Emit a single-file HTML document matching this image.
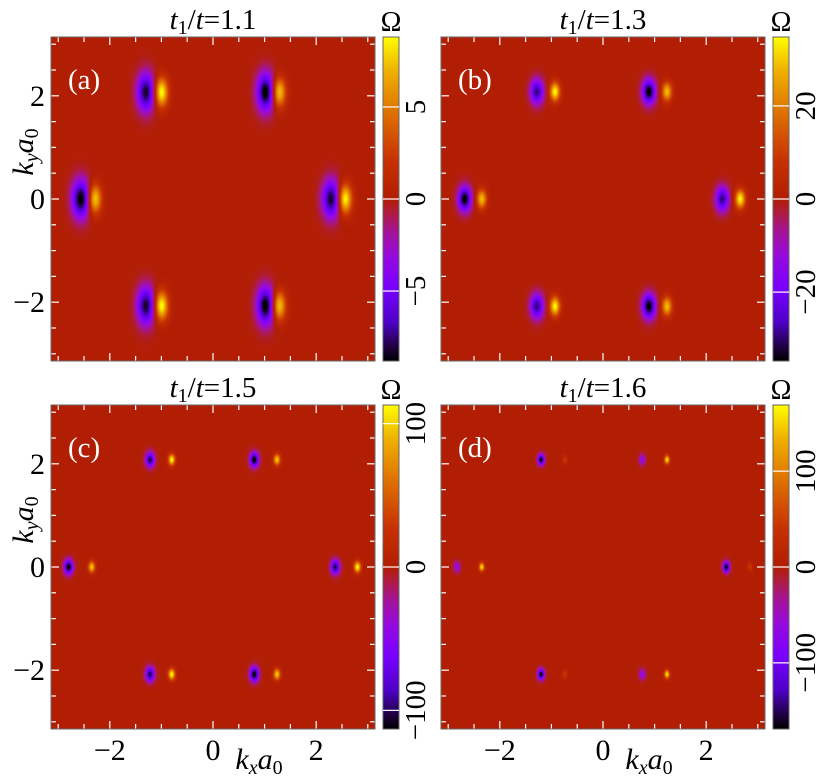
<!DOCTYPE html>
<html><head><meta charset="utf-8">
<style>
body{margin:0;background:#fff;width:830px;height:780px;overflow:hidden;position:relative;font-family:"Liberation Serif","Times New Roman",serif}
canvas{position:absolute}
svg{position:absolute;left:0;top:0;font-family:"Liberation Serif","Times New Roman",serif}
text{font-family:"Liberation Serif","Times New Roman",serif}
</style></head>
<body>
<div id="root"></div>
<script>
// ---- data ----
const panelLetters=['(a)','(b)','(c)','(d)'];
const panelRatios=['1.1','1.3','1.5','1.6'];
const colorRanges=[8.8,34.8,113,169];
const cbTickValues=[[-5,0,5],[-20,0,20],[-100,0,100],[-100,0,100]];
const axisTickLabels=[-2,0,2];
// blob centers (kx, ky) and amplitudes (Omega units)
const blobKx=[
 [-2.56,2.29,-1.30,1.02,-1.30,1.02,-2.29,2.56,-1.00,1.28,-1.00,1.28],
 [-2.68,2.31,-1.28,0.89,-1.28,0.89,-2.35,2.66,-0.93,1.24,-0.93,1.24],
 [-2.80,2.37,-1.22,0.80,-1.22,0.80,-2.35,2.80,-0.80,1.24,-0.80,1.24],
 [-2.83,2.39,-1.20,0.76,-1.20,0.76,-2.35,2.85,-0.74,1.24,-0.74,1.24]];
const blobKy=[
 [0,0,2.07,2.07,-2.07,-2.07,0,0,2.07,2.07,-2.07,-2.07],
 [0,0,2.08,2.08,-2.08,-2.08,0,0,2.08,2.08,-2.08,-2.08],
 [0,0,2.08,2.08,-2.08,-2.08,0,0,2.08,2.08,-2.08,-2.08],
 [0,0,2.08,2.08,-2.08,-2.08,0,0,2.08,2.08,-2.08,-2.08]];
const blobAmp=[
 [-9.2,-8.4,-8.4,-9.2,-8.4,-9.2,8.0,9.2,9.2,8.0,9.2,8.0],
 [-36,-30,-30,-36,-30,-36,29,35,35,29,35,29],
 [-118,-105,-105,-118,-105,-118,100,115,115,100,115,100],
 [-70,-175,-175,-70,-175,-70,165,45,45,165,45,165]];
const blobSx=[0.12,0.09,0.06,0.045];
const blobSy=[0.26,0.17,0.1,0.075];

// ---- layout ----
const panels=[{x:51,y:37},{x:441,y:37},{x:51,y:405},{x:441,y:405}];
const W=324,H=324,KMAX=3.14;
const root=document.getElementById('root');
const stops=[[0,[0,0,0]],[0.04,[30,0,60]],[0.12,[80,0,200]],[0.22,[120,0,255]],[0.32,[150,10,225]],[0.4,[165,20,150]],[0.46,[175,28,60]],[0.5,[178,30,4]],[0.62,[200,50,0]],[0.78,[225,120,0]],[0.9,[240,180,0]],[1,[255,255,0]]];
function cmap(t){t=Math.max(0,Math.min(1,t));for(let i=1;i<stops.length;i++){if(t<=stops[i][0]){const a=stops[i-1],b=stops[i];const f=(t-a[0])/(b[0]-a[0]);return a[1].map((v,j)=>v+(b[1][j]-v)*f);}}return stops[stops.length-1][1];}
function sx(k){return (k+KMAX)/(2*KMAX)*W;}
function sy(k){return (KMAX-k)/(2*KMAX)*H;}

const NS='http://www.w3.org/2000/svg';
const svg=document.createElementNS(NS,'svg');
svg.setAttribute('width','830');svg.setAttribute('height','780');


document.body.appendChild(svg);
function el(tag,attrs,parent){const e=document.createElementNS(NS,tag);for(const k in attrs)e.setAttribute(k,attrs[k]);(parent||svg).appendChild(e);return e;}

panels.forEach((p,pi)=>{
  const R=colorRanges[pi];
  const cv=document.createElement('canvas');
  cv.width=W;cv.height=H;cv.style.left=p.x+'px';cv.style.top=p.y+'px';
  
  
  root.appendChild(cv);
  const ctx=cv.getContext('2d');const img=ctx.createImageData(W,H);
  const ax=blobKx[pi],ay=blobKy[pi],am=blobAmp[pi],s1=blobSx[pi],s2=blobSy[pi];
  for(let j=0;j<H;j++){const ky=KMAX-(j+0.5)/H*2*KMAX;
    for(let i=0;i<W;i++){const kx=-KMAX+(i+0.5)/W*2*KMAX;let v=0;
      for(let b=0;b<ax.length;b++){const dx=kx-ax[b],dy=ky-ay[b];const f=am[b]<0?1:0.75;v+=am[b]*Math.exp(-(dx*dx/(2*s1*s1*f*f)+dy*dy/(2*s2*s2*f*f)));}
      const c=cmap(0.5+v/(2*R));const o=(j*W+i)*4;img.data[o]=c[0];img.data[o+1]=c[1];img.data[o+2]=c[2];img.data[o+3]=255;}}
  ctx.putImageData(img,0,0);
  // colorbar
  const cbx=p.x+332,cbw=16;
  const cb=document.createElement('canvas');cb.width=cbw;cb.height=H;cb.style.left=cbx+'px';cb.style.top=p.y+'px';
  
  
  root.appendChild(cb);
  const c2=cb.getContext('2d');
  for(let j=0;j<H;j++){const c=cmap(1-(j+0.5)/H);c2.fillStyle=`rgb(${c[0]|0},${c[1]|0},${c[2]|0})`;c2.fillRect(0,j,cbw,1);}
  const g=el('g',{});
  
  
  // ticks
  for(let k=-3;k<=3.01;k+=0.5){const major=Math.abs(k-Math.round(k))<1e-6&&Math.round(k)%2===0;const L=major?8:5;
    const X=p.x+sx(k),Y=p.y+sy(k);
    el('line',{x1:X,x2:X,y1:p.y+H,y2:p.y+H-L,stroke:'#fff','stroke-width':1.2},g);
    el('line',{x1:X,x2:X,y1:p.y,y2:p.y+L,stroke:'#fff','stroke-width':1.2},g);
    el('line',{x1:p.x,x2:p.x+L,y1:Y,y2:Y,stroke:'#fff','stroke-width':1.2},g);
    el('line',{x1:p.x+W,x2:p.x+W-L,y1:Y,y2:Y,stroke:'#fff','stroke-width':1.2},g);}
  el('rect',{x:p.x,y:p.y,width:W,height:H,fill:'none',stroke:'#666','stroke-width':1},g);
  el('rect',{x:cbx,y:p.y,width:cbw,height:H,fill:'none',stroke:'#666','stroke-width':1},g);
  // colorbar ticks & labels
  cbTickValues[pi].forEach(v=>{const Y=p.y+H/2-v/R*H/2;
    el('line',{x1:cbx,x2:cbx+cbw,y1:Y,y2:Y,stroke:'#fff','stroke-width':1.2},g);
    const t=el('text',{x:0,y:0,transform:`translate(${cbx+cbw+26},${Y}) rotate(-90)`,'text-anchor':'middle','font-size':29},g);
    t.textContent=(v<0?'\u2212':'')+Math.abs(v);
    
    });
  const om=el('text',{x:cbx+cbw/2,y:p.y-6,'text-anchor':'middle','font-size':28},g);om.textContent='Ω';
  
  
  // title
  const tt=el('text',{x:p.x+W/2,y:p.y-8,'text-anchor':'middle','font-size':29},g);
  tt.innerHTML='<tspan font-style="italic">t</tspan><tspan font-size="20" dy="5">1</tspan><tspan dy="-5">/</tspan><tspan font-style="italic">t</tspan>=1.1'.replace('1.1',panelRatios[pi]);
  
  
  const lt=el('text',{x:p.x+17,y:p.y+52,'font-size':29,fill:'#fff'},g);lt.textContent=panelLetters[pi];
  
  
  // axis labels
  if(pi%2===0){axisTickLabels.forEach(v=>{const t=el('text',{x:p.x-6,y:p.y+sy(v)+10,'text-anchor':'end','font-size':30},g);t.textContent=(v<0?'\u2212':'')+Math.abs(v);
      
      });
    const yl=el('text',{x:0,y:0,transform:`translate(${p.x-18},${p.y+115}) rotate(-90)`,'text-anchor':'middle','font-size':30,'font-style':'italic'},g);
    yl.innerHTML='k<tspan font-size="20" dy="5">y</tspan><tspan dy="-5">a</tspan><tspan font-size="20" dy="5" font-style="normal">0</tspan>';
    
    }
  if(pi>=2){axisTickLabels.forEach(v=>{const t=el('text',{x:p.x+sx(v),y:p.y+H+31,'text-anchor':'middle','font-size':30},g);t.textContent=(v<0?'\u2212':'')+Math.abs(v);
      
      });
    const xl=el('text',{x:p.x+W/2+46,y:p.y+H+40,'text-anchor':'middle','font-size':30,'font-style':'italic'},g);
    xl.innerHTML='k<tspan font-size="20" dy="5">x</tspan><tspan dy="-5">a</tspan><tspan font-size="20" dy="5" font-style="normal">0</tspan>';
    
    }
});
</script>
</body></html>
